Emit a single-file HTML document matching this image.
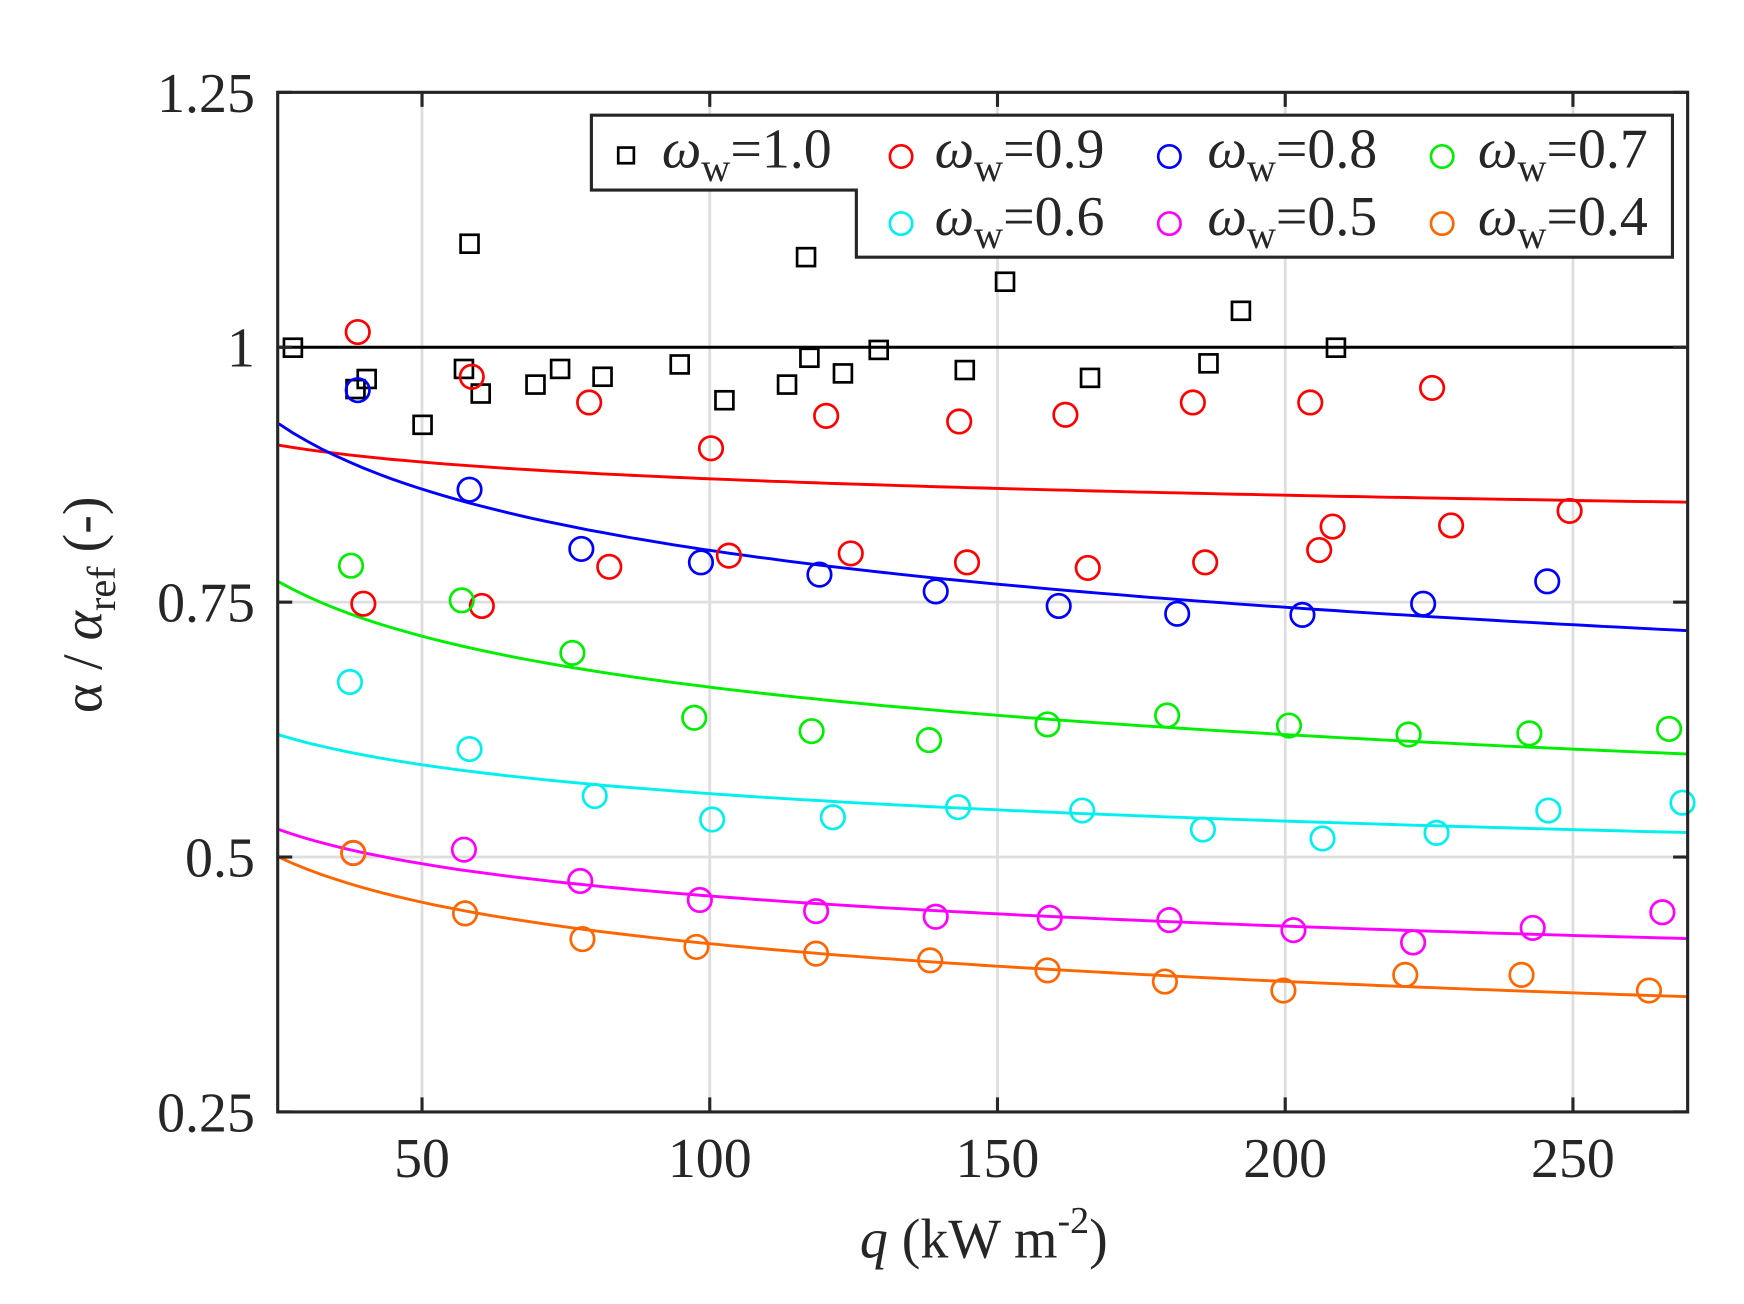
<!DOCTYPE html>
<html><head><meta charset="utf-8"><style>
html,body{margin:0;padding:0;background:#fff;}
svg{display:block;}
text{font-family:"Liberation Serif",serif;fill:#262626;}
</style></head><body>
<svg id="s" width="1744" height="1304" viewBox="0 0 1560 1166.4" preserveAspectRatio="none" xmlns="http://www.w3.org/2000/svg">
<rect width="1560" height="1166.4" fill="#fff"/>
<g id="grid" stroke="#dedede" stroke-width="2.5"></g>
<g id="curves" fill="none" stroke-width="2.6"></g>
<line x1="248.4" y1="310.6" x2="1509.6" y2="310.6" stroke="#000" stroke-width="2.6"/>
<g id="marks" fill="none" stroke-width="2.4"></g>
<rect x="248.4" y="82.6" width="1261.2" height="912" fill="none" stroke="#262626" stroke-width="2.8"/>
<g id="ticks" stroke="#262626" stroke-width="2.8"></g>
<g font-size="50" text-anchor="end">
<text x="228" y="100">1.25</text>
<text x="228" y="328">1</text>
<text x="228" y="556">0.75</text>
<text x="228" y="784">0.5</text>
<text x="228" y="1012">0.25</text>
</g>
<g font-size="50" text-anchor="middle">
<text x="377.5" y="1053">50</text>
<text x="634.9" y="1053">100</text>
<text x="892.2" y="1053">150</text>
<text x="1149.6" y="1053">200</text>
<text x="1407" y="1053">250</text>
</g>
<text x="880" y="1125" font-size="50" text-anchor="middle"><tspan font-style="italic">q</tspan> (kW m<tspan font-size="34" dy="-22">-2</tspan><tspan dy="22">)</tspan></text>
<text transform="translate(91,541) rotate(-90)" font-size="50" text-anchor="middle">α / <tspan font-style="italic">α</tspan><tspan font-size="36" dy="12">ref</tspan><tspan dy="-12"> (-)</tspan></text>
<path d="M529,103 H1496 V230 H766 V170 H529 Z" fill="#fff" stroke="#262626" stroke-width="2.8"/>
<g id="leg" fill="none" stroke-width="2.4"></g>
<g font-size="50" style="fill:#000">
<text x="592" y="150"><tspan font-style="italic">ω</tspan><tspan font-size="36" dy="12">w</tspan><tspan dy="-12">=1.0</tspan></text>
<text x="836" y="150"><tspan font-style="italic">ω</tspan><tspan font-size="36" dy="12">w</tspan><tspan dy="-12">=0.9</tspan></text>
<text x="1080" y="150"><tspan font-style="italic">ω</tspan><tspan font-size="36" dy="12">w</tspan><tspan dy="-12">=0.8</tspan></text>
<text x="1322" y="150"><tspan font-style="italic">ω</tspan><tspan font-size="36" dy="12">w</tspan><tspan dy="-12">=0.7</tspan></text>
<text x="836" y="210"><tspan font-style="italic">ω</tspan><tspan font-size="36" dy="12">w</tspan><tspan dy="-12">=0.6</tspan></text>
<text x="1080" y="210"><tspan font-style="italic">ω</tspan><tspan font-size="36" dy="12">w</tspan><tspan dy="-12">=0.5</tspan></text>
<text x="1322" y="210"><tspan font-style="italic">ω</tspan><tspan font-size="36" dy="12">w</tspan><tspan dy="-12">=0.4</tspan></text>
</g>
</svg>
<script>
var NS="http://www.w3.org/2000/svg";
function el(p,t,a){var e=document.createElementNS(NS,t);for(var k in a)e.setAttribute(k,a[k]);document.getElementById(p).appendChild(e);return e;}
var L=248.4,R=1509.6,T=82.6,B=994.6;
function X(q){return 377.5+(q-50)*5.1475;}
function Y(v){return T+(1.25-v)*912;}
[50,100,150,200,250].forEach(function(q){var x=X(q);el("grid","line",{x1:x,y1:T,x2:x,y2:B});el("ticks","line",{x1:x,y1:B,x2:x,y2:B-13});el("ticks","line",{x1:x,y1:T,x2:x,y2:T+13});});
[1,0.75,0.5].forEach(function(v){var y=Y(v);el("grid","line",{x1:L,y1:y,x2:R,y2:y});});
[1.25,1,0.75,0.5,0.25].forEach(function(v){var y=Y(v);el("ticks","line",{x1:L,y1:y,x2:L+13,y2:y});el("ticks","line",{x1:R,y1:y,x2:R-13,y2:y});});
var curves=[["#ff0000",0.904,0.848],["#0000ff",0.925,0.722],["#00ee00",0.770,0.601],["#00f0f0",0.620,0.524],["#ff00ff",0.527,0.420],["#ff6600",0.500,0.363]];
curves.forEach(function(c){var q0=25.1,q1=270,n=Math.log(c[1]/c[2])/Math.log(q1/q0),a=c[1]*Math.pow(q0,n);var d="";for(var i=0;i<=100;i++){var q=q0+(q1-q0)*i/100;var v=a*Math.pow(q,-n);d+=(i?"L":"M")+X(q).toFixed(1)+","+Y(v).toFixed(1);}el("curves","path",{d:d,stroke:c[0]});});
var sq=[[262,311],[420,218],[328,339],[415,330],[430,352],[378,380],[479,344],[501,330],[539,337],[608,326],[648,358],[704,344],[721,230],[724,320],[754,334],[786,313],[863,331],[899,252],[975,338],[1081,325],[1110,278],[1195,311],[318,348]];
sq.forEach(function(p){el("marks","rect",{x:p[0]-8,y:p[1]-8,width:16,height:16,stroke:"#000"});});
var S={
"#ff0000":[[320,297],[422,337],[527,360],[636,401],[739,372],[858,377],[953,371],[1067,360],[1172,360],[1281,347],[325,540],[431,542],[545,507],[652,497],[761,495],[865,503],[973,508],[1078,503],[1180,492],[1192,471],[1298,470],[1404,457]],
"#0000ff":[[320,349],[420,438],[520,491],[627,503],[733,514],[837,529],[947,542],[1053,549],[1165,550],[1273,540],[1384,520]],
"#00ee00":[[314,506],[413,537],[512,584],[621,642],[726,654],[831,662],[937,648],[1044,640],[1153,649],[1260,657],[1368,656],[1493,652]],
"#00f0f0":[[313,610],[420,670],[532,712],[637,733],[745,731],[857,722],[968,725],[1076,742],[1183,750],[1285,745],[1385,725],[1505,718]],
"#ff00ff":[[316,763],[415,760],[519,788],[626,805],[730,815],[837,820],[939,821],[1046,823],[1157,832],[1264,843],[1371,830],[1487,816]],
"#ff6600":[[316,763],[416,817],[521,840],[623,847],[730,853],[832,859],[937,868],[1042,878],[1148,886],[1257,872],[1361,872],[1475,886]]};
for(var c in S){S[c].forEach(function(p){el("marks","circle",{cx:p[0],cy:p[1],r:10.5,stroke:c});});}
el("leg","rect",{x:553,y:132,width:14,height:14,stroke:"#000"});
[[806,140,"#ff0000"],[1046,140,"#0000ff"],[1290,140,"#00ee00"],[806,200,"#00f0f0"],[1046,200,"#ff00ff"],[1290,200,"#ff6600"]].forEach(function(m){el("leg","circle",{cx:m[0],cy:m[1],r:10,stroke:m[2]});});
</script>
</body></html>
